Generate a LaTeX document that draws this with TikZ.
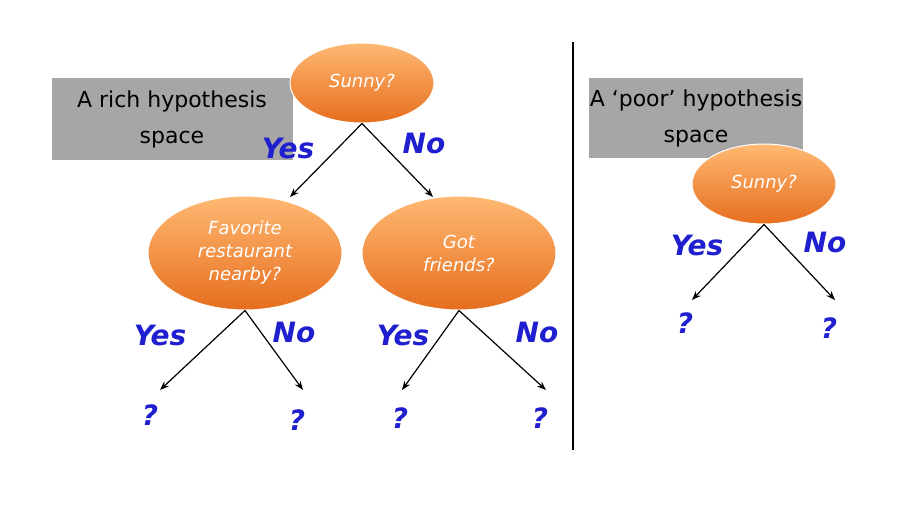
\documentclass[tikz,border=0pt]{standalone}
\usepackage{fontspec}
\setmainfont{DejaVu Sans}
\usetikzlibrary{shapes.geometric,arrows.meta}
\definecolor{boxgrey}{HTML}{A6A6A6}
\definecolor{yn}{HTML}{1F1FD0}
\begin{document}
\begin{tikzpicture}[x=1pt,y=-1pt,
  q/.style={ellipse,top color=orange!55!white,bottom color={rgb,255:red,230;green,110;blue,30},draw=white,line width=1pt,text=white,font=\itshape\fontsize{18}{23}\selectfont,align=center,inner sep=0pt},
  lab/.style={text=yn,font=\itshape\bfseries\fontsize{28}{30}\selectfont},
  qm/.style={text=yn,font=\itshape\bfseries\fontsize{28}{30}\selectfont},
  gbox/.style={fill=boxgrey,font=\fontsize{22}{36}\selectfont,align=center,inner sep=0pt},
  arr/.style={-{Stealth[length=9pt]},line width=1.2pt}]
\useasboundingbox (0,0) rectangle (900,504);
\node[gbox,minimum width=241,minimum height=82] (b1) at (172,119) {A rich hypothesis\\space};
\node[gbox,minimum width=214,minimum height=80] (b2) at (696,118) {A ‘poor’ hypothesis\\space};
\node[q,minimum width=144,minimum height=80] (s) at (362,83) {Sunny?};
\node[q,minimum width=194,minimum height=114] (f) at (245,253) {Favorite\\restaurant\\nearby?};
\node[q,minimum width=194,minimum height=114] (g) at (459,253) {Got\\friends?};
\node[q,minimum width=144,minimum height=80] (s2) at (764,184) {Sunny?};
\coordinate (c1) at (290,197); \coordinate (c2) at (433,197);
\draw[arr] (s.south) -- (c1); \draw[arr] (s.south) -- (c2);
\coordinate (f1) at (160,390); \coordinate (f2) at (303,390);
\coordinate (g1) at (402,390); \coordinate (g2) at (546,390);
\draw[arr] (f.south) -- (f1); \draw[arr] (f.south) -- (f2);
\draw[arr] (g.south) -- (g1); \draw[arr] (g.south) -- (g2);
\coordinate (r1) at (692,300); \coordinate (r2) at (835,300);
\draw[arr] (s2.south) -- (r1); \draw[arr] (s2.south) -- (r2);
\node[lab] (y1) at (288,148) {Yes}; \node[lab] (n1) at (424,143) {No};
\node[lab] (y2) at (160,335) {Yes}; \node[lab] (n2) at (294,332) {No};
\node[lab] (y3) at (403,335) {Yes}; \node[lab] (n3) at (537,332) {No};
\node[lab] (y4) at (697,245) {Yes}; \node[lab] (n4) at (825,242) {No};
\node[qm] (q1) at (150,415) {?}; \node[qm] (q2) at (297,420) {?};
\node[qm] (q3) at (400,418) {?}; \node[qm] (q4) at (540,418) {?};
\node[qm] (q5) at (685,323) {?}; \node[qm] (q6) at (829,328) {?};
\coordinate (v1) at (573,42); \coordinate (v2) at (573,450);
\draw[line width=2pt] (v1) -- (v2);
\end{tikzpicture}
\end{document}
